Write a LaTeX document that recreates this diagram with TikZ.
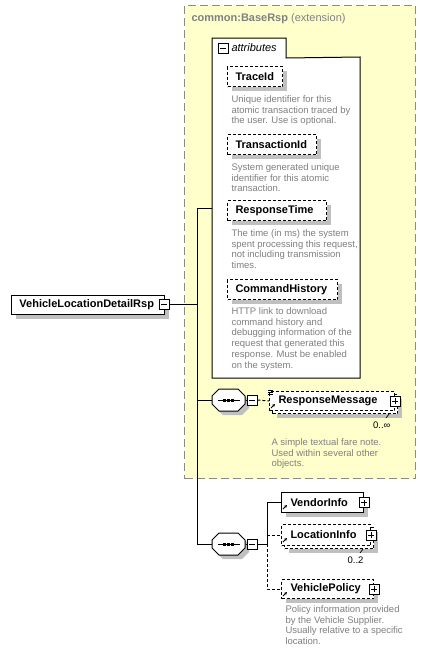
\documentclass[tikz,border=0pt]{standalone}
\usepackage{fontspec}
\setmainfont{Liberation Sans}
\usetikzlibrary{arrows.meta,shadows,positioning}
\definecolor{extfill}{HTML}{FFFFCC}
\definecolor{extline}{HTML}{8A8A8A}
\definecolor{shadegray}{HTML}{C0C0C0}
\definecolor{notegray}{HTML}{808080}
\tikzset{
  every picture/.style={x=1pt, y=-1pt, line width=1pt, >=Stealth},
  boxshadow/.style={drop shadow={shadow xshift=4pt, shadow yshift=-4pt, fill=shadegray, opacity=1}},
  elem/.style={draw, fill=white, anchor=north west, inner xsep=8pt, inner ysep=0pt, align=left, font=\fontsize{11}{13}\selectfont\bfseries},
  refelem/.style={elem, inner xsep=9pt},
  optional/.style={dash pattern=on 3pt off 2pt},
  note/.style={anchor=north west, inner sep=0pt, align=left, text=notegray, font=\fontsize{9.5}{10.8}\selectfont},
  occurs/.style={inner sep=0pt, font=\fontsize{9.5}{10.8}\selectfont},
  minusbox/.style={draw, solid, fill=white, minimum size=10pt, inner sep=0pt, line width=0.8pt,
    path picture={\draw ([xshift=2pt]path picture bounding box.west) -- ([xshift=-2pt]path picture bounding box.east);}},
  plusbox/.style={draw, solid, fill=white, minimum size=10pt, inner sep=0pt, line width=0.8pt,
    path picture={\draw ([xshift=2pt]path picture bounding box.west) -- ([xshift=-2pt]path picture bounding box.east);
      \draw ([yshift=2pt]path picture bounding box.south) -- ([yshift=-2pt]path picture bounding box.north);}},
  compositor/.style={minimum width=33pt, minimum height=22pt, inner sep=0pt},
  refmark/.style={-{Stealth[length=3pt,width=3pt]}, line width=0.8pt},
}

\begin{document}
\begin{tikzpicture}
\useasboundingbox (0,0) rectangle (429,653);
\fill[white] (0,0) rectangle (429,653);

\node[draw=extline, fill=extfill, dash pattern=on 8pt off 4pt, anchor=north west,
  minimum width=231pt, minimum height=473pt, inner sep=0pt] (extbox) at (184,5) {};
\node[anchor=west, inner sep=0pt, text=notegray, font=\fontsize{11}{13}\selectfont] (extlabel) at (191,19)
  {\textbf{common:BaseRsp} (extension)};

\node[fill=white, anchor=north west, minimum width=147pt, minimum height=320pt, inner sep=0pt] (attrbox) at (212,57) {};
\node[fill=white, anchor=north west, minimum width=73pt, minimum height=19pt, inner sep=0pt] (attrtab) at (212,38) {};
\draw (attrtab.south west) -- (attrtab.north west) -- (attrtab.north east) -- (attrtab.south east)
  -- (attrbox.north east) -- (attrbox.south east) -- (attrbox.south west) -- cycle;
\node[minusbox] (attrminus) at (223,48) {};
\node[anchor=west, inner sep=0pt, font=\fontsize{11}{13}\selectfont\itshape] (attrlabel) at (231,48) {attributes};

\node[elem, optional, boxshadow, text width=39pt, minimum height=20pt] (traceid) at (227,66) {TraceId};
\node[note, below right=8pt and 4pt of traceid.south west] (tracenote)
  {Unique identifier for this\\atomic transaction traced by\\the user. Use is optional.};
\node[elem, optional, boxshadow, text width=73pt, minimum height=20pt] (transid) at (227,134) {TransactionId};
\node[note, below right=8pt and 4pt of transid.south west] (transnote)
  {System generated unique\\identifier for this atomic\\transaction.};
\node[elem, optional, boxshadow, text width=83pt, minimum height=20pt] (resptime) at (227,200) {ResponseTime};
\node[note, below right=8pt and 4pt of resptime.south west] (timenote)
  {The time (in ms) the system\\spent processing this request,\\not including transmission\\times.};
\node[elem, optional, boxshadow, text width=94pt, minimum height=20pt] (cmdhist) at (227,279) {CommandHistory};
\node[note, below right=7pt and 4pt of cmdhist.south west] (histnote)
  {HTTP link to download\\command history and\\debugging information of the\\request that generated this\\response. Must be enabled\\on the system.};

\node[elem, boxshadow, text width=137pt, minimum height=19pt] (root) at (11,295) {VehicleLocationDetailRsp};
\node[minusbox] (rootminus) at (164,304.5) {};

\coordinate (trunktop) at (197,208);
\coordinate (trunkbot) at (197,544);
\draw (trunktop) -- (trunkbot);
\draw (rootminus.east) -- (rootminus.east -| trunktop);
\draw (trunktop) -- (trunktop -| attrbox.west);

\node[compositor] (seqa) at (228.5,400) {};
\node[compositor] (seqb) at (228.5,544) {};
\foreach \s in {seqa,seqb}{
  \fill[shadegray] ([shift={(-12.5,0)}]\s.center) -- ++(7,-7) -- ++(19,0) -- ++(7,7) -- ++(0,8) -- ++(-7,7) -- ++(-19,0) -- ++(-7,-7) -- cycle;
  \filldraw[fill=white] ([shift={(-16.5,-4)}]\s.center) -- ++(7,-7) -- ++(19,0) -- ++(7,7) -- ++(0,8) -- ++(-7,7) -- ++(-19,0) -- ++(-7,-7) -- cycle;
  \draw[line width=0.8pt] ([xshift=-11pt]\s.center) -- ([xshift=11pt]\s.center);
  \foreach \d in {-4,0,4} \fill ([shift={(\d-1.5,-1.5)}]\s.center) rectangle ++(3,3);
}

\node[minusbox] (seqaminus) at (252,400) {};
\draw (seqa.west -| trunktop) -- (seqa.west);
\draw (seqa.east) -- (seqaminus.west);

\node[elem, optional, boxshadow, text width=109pt, minimum height=19pt] (respback) at (272,394) {};
\node[refelem, optional, text width=107pt, minimum height=19pt] (respfront) at (269,391) {ResponseMessage};
\foreach \k in {0,2,4} \draw[line width=0.7pt] ([shift={(-1,\k-1)}]respfront.north west) -- ++(5,0);
\draw[refmark] ([shift={(2,-3)}]respfront.south west) -- ++(4,-4);
\node[plusbox] (respplus) at (respfront.east) {};
\draw[optional] (seqaminus.east) -- (respfront.west);
\node[occurs, below left=7pt and 7pt of respback.south east] (respocc) {0..∞};
\draw[line width=0.7pt] ([xshift=-9pt]respback.south east) -- ++(-3,4);
\node[note, below right=27pt and 2pt of respfront.south west] (respnote)
  {A simple textual fare note.\\Used within several other\\objects.};

\node[minusbox] (seqbminus) at (252,544) {};
\draw (trunkbot) -- (seqb.west);
\draw (seqb.east) -- (seqbminus.west);
\coordinate (fork) at (267,544);
\draw (seqbminus.east) -- (fork);

\node[refelem, boxshadow, text width=64pt, minimum height=20pt] (vendor) at (281,492) {VendorInfo};
\draw[refmark] ([shift={(2,-4)}]vendor.south west) -- ++(4,-4);
\node[plusbox] (vendorplus) at (vendor.east) {};

\node[elem, optional, boxshadow, text width=73pt, minimum height=21pt] (locback) at (284,527) {};
\node[refelem, optional, text width=71pt, minimum height=21pt] (locfront) at (281,524) {LocationInfo};
\draw[refmark] ([shift={(2,-4)}]locfront.south west) -- ++(4,-4);
\node[plusbox] (locplus) at (locfront.east) {};
\node[occurs, below left=7pt and 10pt of locback.south east] (lococc) {0..2};
\draw[line width=0.7pt] ([xshift=-11pt]locback.south east) -- ++(-3,4);

\node[refelem, optional, boxshadow, text width=74pt, minimum height=19pt] (vpolicy) at (281,579) {VehiclePolicy};
\draw[refmark] ([shift={(2,-3)}]vpolicy.south west) -- ++(4,-4);
\node[plusbox] (vpolicyplus) at (vpolicy.east) {};
\node[note, below right=6pt and 4pt of vpolicy.south west] (vpolicynote)
  {Policy information provided\\by the Vehicle Supplier.\\Usually relative to a specific\\location.};

\draw (fork) |- (vendor.west);
\draw[optional] (fork |- locfront.west) -- (locfront.west);
\draw[optional] (fork) |- (vpolicy.west);
\end{tikzpicture}
\end{document}
